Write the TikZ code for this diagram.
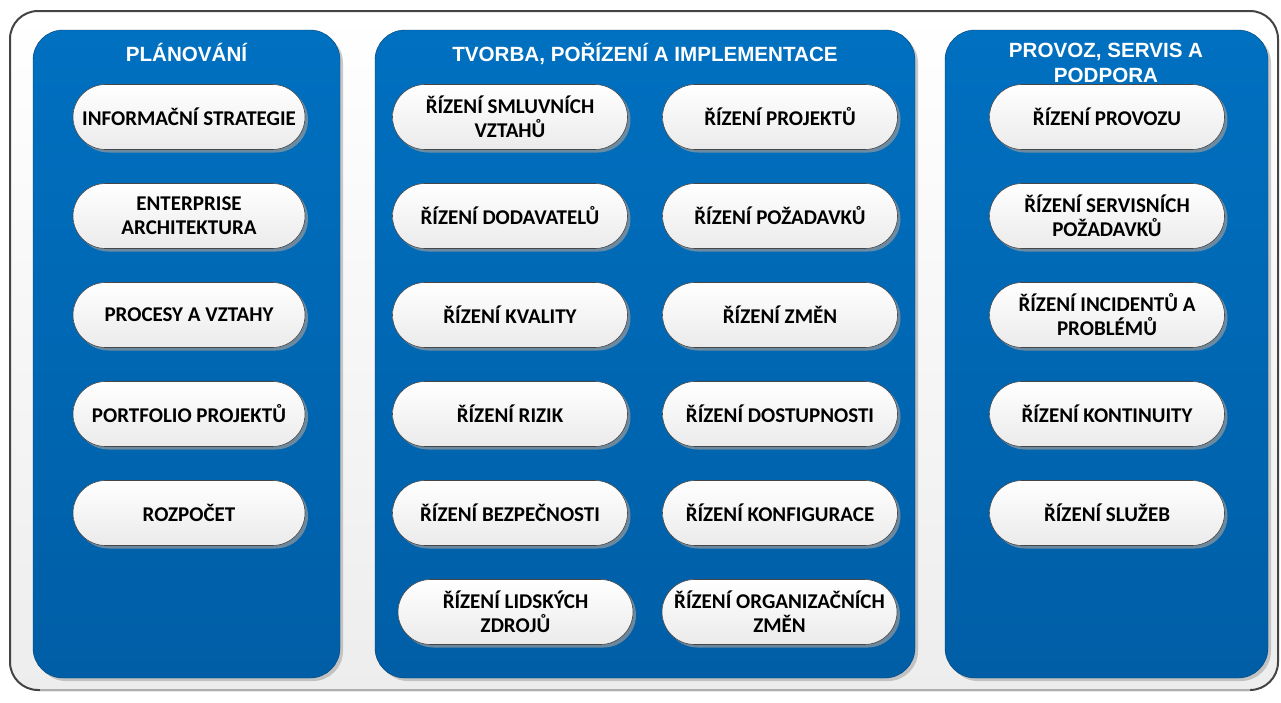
\documentclass[tikz,border=0pt]{standalone}
\usepackage{fontspec}
\setmainfont{Carlito}
\newfontfamily\titlefont{Liberation Sans}
\usetikzlibrary{shadows}
\definecolor{panelTop}{RGB}{0,112,192}
\definecolor{panelBot}{RGB}{0,94,166}
\definecolor{frameDark}{RGB}{68,68,68}
\definecolor{frameLight}{RGB}{175,175,175}
\definecolor{pillEdge}{RGB}{70,70,70}
\tikzset{
  panel/.style={rounded corners=30pt, top color=panelTop, bottom color=panelBot,
    draw=panelBot!70!black, line width=0.4pt,
    drop shadow={shadow xshift=3pt, shadow yshift=-3pt, fill=black!35, opacity=0.6}},
  paneltitle/.style={text=white, font=\titlefont\bfseries\fontsize{20.6}{24.5}\selectfont,
    align=center, anchor=north, inner sep=0pt},
  pill/.style={rectangle, rounded corners=32.5pt, minimum width=235pt, minimum height=65pt,
    top color=white, bottom color=black!8, draw=pillEdge, line width=0.6pt,
    font=\bfseries\fontsize{21}{24}\selectfont, align=center, text=black, inner sep=2pt,
    drop shadow={shadow xshift=3pt, shadow yshift=-3pt, fill=black!40, opacity=0.7}},
}
\begin{document}
\begin{tikzpicture}[x=1pt,y=-1pt]
\useasboundingbox (0,0) rectangle (1281,702);
% outer frame
\shade[top color=white, bottom color=black!7, rounded corners=28pt] (10,11) rectangle (1278,690);
\draw[frameDark, line width=2pt, rounded corners=28pt] (10,11) rectangle (1278,690);
\draw[frameLight, line width=2.4pt] (40,690) -- (1250,690);
% panels
\path[panel] (33,30) rectangle (340,678);
\path[panel] (375,30) rectangle (915,678);
\path[panel] (945,30) rectangle (1268,678);
\node[paneltitle] (t1) at (186.5,43) {PLÁNOVÁNÍ};
\node[paneltitle] (t2) at (645,43) {TVORBA, POŘÍZENÍ A IMPLEMENTACE};
\node[paneltitle] (t3) at (1106,43) {PROVOZ, SERVIS A\\PODPORA};
% left column
\node[pill, minimum width=232pt] (a1) at (189,117) {INFORMAČNÍ STRATEGIE};
\node[pill, minimum width=232pt] (a2) at (189,216) {ENTERPRISE\\ARCHITEKTURA};
\node[pill, minimum width=232pt] (a3) at (189,315) {PROCESY A VZTAHY};
\node[pill, minimum width=232pt] (a4) at (189,414) {PORTFOLIO PROJEKTŮ};
\node[pill, minimum width=232pt] (a5) at (189,513) {ROZPOČET};
% middle column
\node[pill] (b1) at (510,117) {ŘÍZENÍ SMLUVNÍCH\\VZTAHŮ};
\node[pill] (b2) at (510,216) {ŘÍZENÍ DODAVATELŮ};
\node[pill] (b3) at (510,315) {ŘÍZENÍ KVALITY};
\node[pill] (b4) at (510,414) {ŘÍZENÍ RIZIK};
\node[pill] (b5) at (510,513) {ŘÍZENÍ BEZPEČNOSTI};
\node[pill] (b6) at (515.5,612) {ŘÍZENÍ LIDSKÝCH\\ZDROJŮ};
\node[pill] (c1) at (780,117) {ŘÍZENÍ PROJEKTŮ};
\node[pill] (c2) at (780,216) {ŘÍZENÍ POŽADAVKŮ};
\node[pill] (c3) at (780,315) {ŘÍZENÍ ZMĚN};
\node[pill] (c4) at (780,414) {ŘÍZENÍ DOSTUPNOSTI};
\node[pill] (c5) at (780,513) {ŘÍZENÍ KONFIGURACE};
\node[pill] (c6) at (779.5,612) {ŘÍZENÍ ORGANIZAČNÍCH\\ZMĚN};
% right column
\node[pill] (d1) at (1107,117) {ŘÍZENÍ PROVOZU};
\node[pill] (d2) at (1107,216) {ŘÍZENÍ SERVISNÍCH\\POŽADAVKŮ};
\node[pill] (d3) at (1107,315) {ŘÍZENÍ INCIDENTŮ A\\PROBLÉMŮ};
\node[pill] (d4) at (1107,414) {ŘÍZENÍ KONTINUITY};
\node[pill] (d5) at (1107,513) {ŘÍZENÍ SLUŽEB};
\end{tikzpicture}
\end{document}
